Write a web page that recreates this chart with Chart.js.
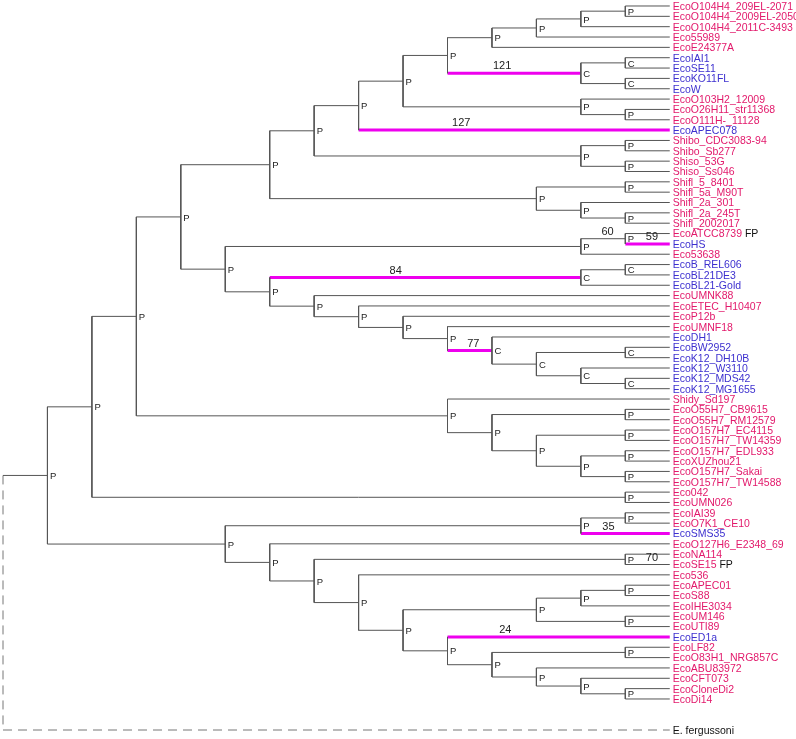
<!DOCTYPE html>
<html>
<head>
<meta charset="utf-8">
<script src="https://cdn.jsdelivr.net/npm/chart.js@4.4.1/dist/chart.umd.min.js"></script>
<style>
  html, body { margin: 0; padding: 0; background: #fff; }
  #wrap { width: 796px; height: 739px; position: relative; }
</style>
</head>
<body>
<div id="wrap"><canvas id="tree"></canvas></div>
<script>
// tree topology (newick), internal nodes labelled P / C
const cladeA = "(((((((((EcoO104H4_209EL-2071,EcoO104H4_2009EL-2050)P,EcoO104H4_2011C-3493)P,Eco55989)P,EcoE24377A)P,((EcoIAI1,EcoSE11)C,(EcoKO11FL,EcoW)C)C)P,(EcoO103H2_12009,(EcoO26H11_str11368,EcoO111H-_11128)P)P)P,EcoAPEC078)P,((Shibo_CDC3083-94,Shibo_Sb277)P,(Shiso_53G,Shiso_Ss046)P)P)P,((Shifl_5_8401,Shifl_5a_M90T)P,(Shifl_2a_301,(Shifl_2a_245T,Shifl_2002017)P)P)P)P";
const cladeB = "(((EcoATCC8739,EcoHS)P,Eco53638)P,(((EcoB_REL606,EcoBL21DE3)C,EcoBL21-Gold)C,(EcoUMNK88,(EcoETEC_H10407,(EcoP12b,(EcoUMNF18,(EcoDH1,((EcoBW2952,EcoK12_DH10B)C,(EcoK12_W3110,(EcoK12_MDS42,EcoK12_MG1655)C)C)C)C)P)P)P)P)P)P";
const cladeC = "(Shidy_Sd197,((EcoO55H7_CB9615,EcoO55H7_RM12579)P,((EcoO157H7_EC4115,EcoO157H7_TW14359)P,((EcoO157H7_EDL933,EcoXUZhou21)P,(EcoO157H7_Sakai,EcoO157H7_TW14588)P)P)P)P)P";
const cladeD = "(((EcoIAI39,EcoO7K1_CE10)P,EcoSMS35)P,(EcoO127H6_E2348_69,((EcoNA114,EcoSE15)P,(Eco536,((((EcoAPEC01,EcoS88)P,EcoIHE3034)P,(EcoUM146,EcoUTI89)P)P,(EcoED1a,((EcoLF82,EcoO83H1_NRG857C)P,(EcoABU83972,(EcoCFT073,(EcoCloneDi2,EcoDi14)P)P)P)P)P)P)P)P)P)P";
const outgroup = "E. fergussoni";
const newick = `(((((${cladeA},${cladeB})P,${cladeC})P,(Eco042,EcoUMN026)P)P,${cladeD})P,${outgroup})`;

const blueLeaves = ["EcoIAI1", "EcoSE11", "EcoKO11FL", "EcoW", "EcoAPEC078", "EcoHS",
  "EcoB_REL606", "EcoBL21DE3", "EcoBL21-Gold", "EcoDH1", "EcoBW2952", "EcoK12_DH10B",
  "EcoK12_W3110", "EcoK12_MDS42", "EcoK12_MG1655", "EcoSMS35", "EcoED1a"];
const fpLeaves = ["EcoATCC8739", "EcoSE15"];

// branch support values; target = leaf name or "firstLeaf|lastLeaf" of a clade
const supportTargets = ["EcoIAI1|EcoW", "EcoAPEC078", "EcoATCC8739|EcoHS", "EcoHS",
  "EcoB_REL606|EcoBL21-Gold", "EcoDH1|EcoK12_MG1655", "EcoSMS35", "EcoSE15", "EcoED1a"];
const supportValues = [121, 127, 60, 59, 84, 77, 35, 70, 24];
const supportMarked = [true, true, false, true, true, true, true, false, true];

// ---- styles
const RED = '#e2196b', BLUE = '#3d30cf', LINE = '#555', MAGENTA = '#ee00ee';
const FONT = '"Liberation Sans", Arial, sans-serif';
const noteAlong = [0.41, 0.33, 0.6, 0.6, 0.405, 0.58, 0.31, 0.6, 0.26];
const outgroupGap = 3;

function parseNewick(s) {
  let i = 0;
  function node() {
    const n = { children: [] };
    if (s[i] === '(') {
      i++;
      n.children.push(node());
      while (s[i] === ',') { i++; n.children.push(node()); }
      i++;
    }
    let name = '';
    while (i < s.length && !'(),;'.includes(s[i])) name += s[i++];
    n.name = name.trim();
    return n;
  }
  return node();
}

const root = parseNewick(newick);
const leaves = [];
const internals = [];

function height(n) {
  n.h = n.children.length ? 1 + Math.max(...n.children.map(height)) : 0;
  return n.h;
}
height(root);

function layout(n) {
  if (!n.children.length) {
    n.y = n.name === outgroup ? leaves.length - 1 + outgroupGap : leaves.length;
    leaves.push(n);
    n.first = n.last = n.name;
  } else {
    n.children.forEach(layout);
    const c = n.children;
    n.y = (c[0].y + c[c.length - 1].y) / 2;
    n.first = c[0].first;
    n.last = c[c.length - 1].last;
    internals.push(n);
  }
  n.x = root.h - n.h;
}
layout(root);

function keyOf(n) { return n.children.length ? n.first + '|' + n.last : n.name; }

const treeSegs = [], markSegs = [], dashSegs = [];
const gap = { x: null, y: null };
internals.forEach(n => {
  const c = n.children;
  const isRoot = n === root;
  (isRoot ? dashSegs : treeSegs).push({ x: n.x, y: c[0].y }, { x: n.x, y: c[c.length - 1].y }, gap);
  c.forEach(ch => {
    const k = supportTargets.indexOf(keyOf(ch));
    let target = treeSegs;
    if (ch.name === outgroup) target = dashSegs;
    else if (k >= 0 && supportMarked[k]) target = markSegs;
    target.push({ x: n.x, y: ch.y }, { x: ch.x, y: ch.y }, gap);
  });
});

const allNodes = internals.concat(leaves);

const treeText = {
  id: 'treeText',
  afterDatasetsDraw(chart) {
    const { ctx, scales: { x, y } } = chart;
    ctx.save();
    ctx.textAlign = 'left';
    ctx.textBaseline = 'middle';
    // leaf names
    ctx.font = '10.5px ' + FONT;
    leaves.forEach(l => {
      const px = x.getPixelForValue(l.x) + 3;
      const py = y.getPixelForValue(l.y) + 1;
      ctx.fillStyle = l.name === outgroup ? '#111' : (blueLeaves.includes(l.name) ? BLUE : RED);
      ctx.fillText(l.name, px, py);
      if (fpLeaves.includes(l.name)) {
        const w = ctx.measureText(l.name + ' ').width;
        ctx.fillStyle = '#111';
        ctx.fillText('FP', px + w, py);
      }
    });
    // node labels
    ctx.font = '9.5px ' + FONT;
    ctx.fillStyle = '#222';
    internals.forEach(n => {
      if (n === root) return;
      ctx.fillText(n.name, x.getPixelForValue(n.x) + 2.5, y.getPixelForValue(n.y) + 1);
    });
    // support values
    ctx.font = '11px ' + FONT;
    ctx.textAlign = 'center';
    ctx.textBaseline = 'bottom';
    supportTargets.forEach((t, i) => {
      const ch = allNodes.find(n => keyOf(n) === t);
      const par = internals.find(n => n.children.includes(ch));
      const x0 = x.getPixelForValue(par.x), x1 = x.getPixelForValue(ch.x);
      ctx.fillText(String(supportValues[i]), x0 + (x1 - x0) * noteAlong[i], y.getPixelForValue(ch.y) - 1.5);
    });
    ctx.restore();
  }
};

new Chart(document.getElementById('tree'), {
  type: 'scatter',
  data: {
    datasets: [
      { data: treeSegs, showLine: true, borderColor: LINE, borderWidth: 1, pointRadius: 0, spanGaps: false },
      { data: markSegs, showLine: true, borderColor: MAGENTA, borderWidth: 3, pointRadius: 0, spanGaps: false },
      { data: dashSegs, showLine: true, borderColor: '#777', borderWidth: 1, borderDash: [9, 6], pointRadius: 0, spanGaps: false }
    ]
  },
  options: {
    responsive: true,
    maintainAspectRatio: false,
    animation: false,
    layout: { padding: 0 },
    plugins: { legend: { display: false }, tooltip: { enabled: false } },
    scales: {
      x: { type: 'linear', display: false, min: -0.0675, max: 17.84 },
      y: { type: 'linear', display: false, reverse: true, min: -0.58, max: 70.87 }
    }
  },
  plugins: [treeText]
});
</script>
</body>
</html>
